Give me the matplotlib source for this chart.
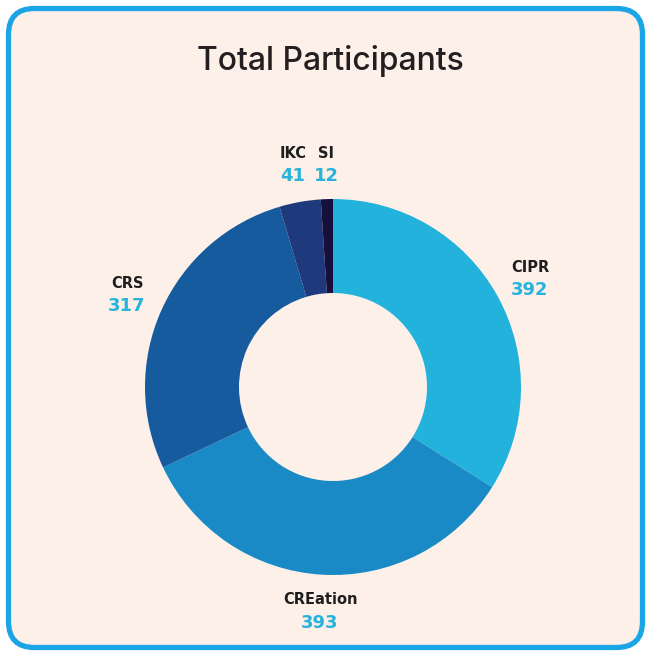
import matplotlib
matplotlib.use('Agg')
import matplotlib.pyplot as plt
from matplotlib.patches import FancyBboxPatch

# data
labels = ["CIPR", "CREation", "CRS", "IKC", "SI"]
values = [392, 393, 317, 41, 12]
colors = ["#22b2dc", "#1a8ac6", "#155b9e", "#1f3a7c", "#17103e"]

# label anchors in pixels (x, y from top)
label_pos = [(530, 267), (320, 600), (127, 283), (293, 153), (326, 153)]

W, H = 651, 653
fig = plt.figure(figsize=(W / 100, H / 100), dpi=100)
fig.patch.set_facecolor("white")
ax = fig.add_axes([0, 0, 1, 1])


def fy(y):
    # pixel row from top -> data y
    return H - y


# donut
ax.pie(values, colors=colors, startangle=90, counterclock=False, center=(333, fy(387)),
       radius=188, wedgeprops=dict(width=94, linewidth=0), frame=True)
ax.set_xlim(0, W)
ax.set_ylim(0, H)
ax.set_aspect("equal")
ax.axis("off")

# rounded card background with blue border
card = FancyBboxPatch((8.5, 5.5), W - 17, H - 14, boxstyle="round,pad=0,rounding_size=26",
                      facecolor="#fdf0e9", edgecolor="#1aa6e6", linewidth=3.8, zorder=-1)
ax.add_patch(card)

ax.text(330, fy(61), "Total Participants", ha="center", va="center", fontsize=23,
        family="Inter", fontweight="medium", color="#231f20")

for lab, val, (x, y) in zip(labels, values, label_pos):
    ax.text(x, fy(y), lab, ha="center", va="center", fontsize=10.5, fontweight="bold",
            family="DejaVu Sans", color="#1e1e1e")
    ax.text(x, fy(y + 23), str(val), ha="center", va="center", fontsize=13, fontweight="bold",
            family="DejaVu Sans", color="#27b3dc")

plt.savefig("out.png", dpi=100)
